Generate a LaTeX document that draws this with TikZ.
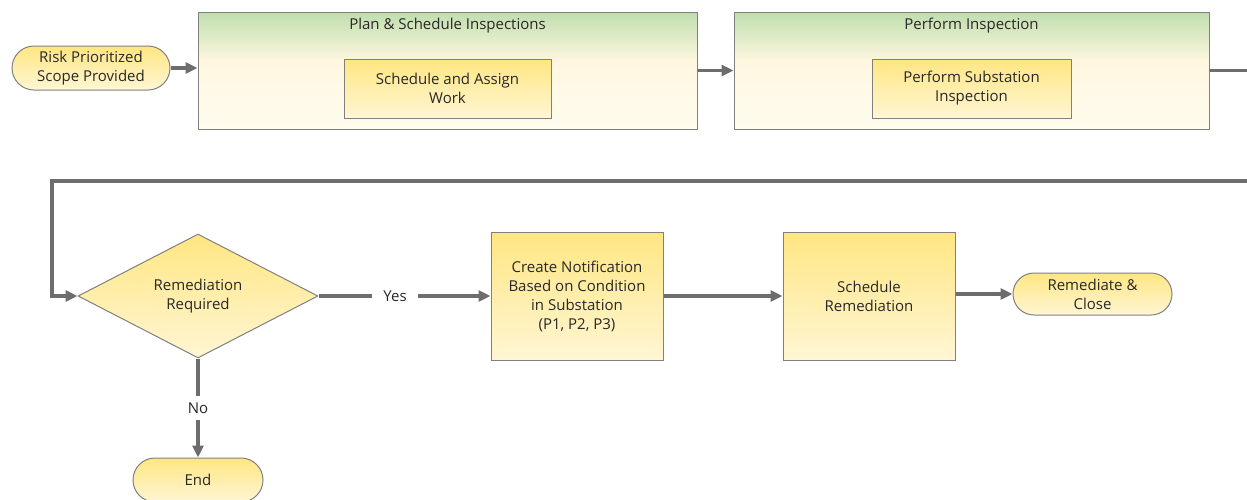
\documentclass[tikz,border=0pt]{standalone}
\usepackage{fontspec}
\setmainfont{Open Sans}
\usetikzlibrary{shapes.misc,shapes.geometric,arrows.meta}
\definecolor{txt}{RGB}{40,40,40}
\definecolor{bord}{RGB}{128,128,128}
\definecolor{arrc}{RGB}{110,108,110}
\definecolor{cb}{RGB}{255,252,238}
\definecolor{cm}{RGB}{255,247,224}
\definecolor{ct}{RGB}{192,222,174}
\definecolor{yt}{RGB}{255,230,130}
\definecolor{yb}{RGB}{255,246,212}
\pgfdeclareverticalshading{contshade}{100bp}{color(0bp)=(cb); color(25bp)=(cb); color(54bp)=(cm); color(75bp)=(ct); color(100bp)=(ct)}
\tikzset{
  lbl/.style={font=\fontsize{15}{19}\selectfont, text=txt, align=center},
  cont/.style={draw=bord, line width=1pt, shading=contshade, minimum height=117pt, inner sep=0pt},
  ybox/.style={lbl, draw=bord, line width=1pt, top color=yt, bottom color=yb, inner sep=0pt},
  term/.style={lbl, rounded rectangle, draw=bord, line width=1pt, top color=yt, bottom color=yb, inner sep=0pt},
  dec/.style={lbl, diamond, draw=bord, line width=1pt, top color=yt, bottom color=yb, inner sep=0pt, minimum width=240pt, minimum height=124pt},
  arr/.style={draw=arrc, line width=3.5pt, -{Triangle[length=12pt,width=11pt]}},
  ln/.style={draw=arrc, line width=3.5pt},
  ttl/.style={lbl},
  cut/.style={lbl, fill=white, inner ysep=1pt}
}
\begin{document}
\begin{tikzpicture}[x=1pt,y=-1pt]
\useasboundingbox (0,0) rectangle (1247,499);
% top row
\node[term, minimum width=158pt, minimum height=44pt] (start) at (91,68) {Risk Prioritized\\Scope Provided};
\node[cont, minimum width=499pt] (c1) at (447.5,70.5) {};
\node[ttl] (t1) at (447.5,26) {Plan \& Schedule Inspections};
\node[ybox, minimum width=207pt, minimum height=59pt] (b1) at (447.5,88.5) {Schedule and Assign\\Work};
\node[cont, minimum width=475pt] (c2) at (971.5,70.5) {};
\node[ttl] (t2) at (971.5,26) {Perform Inspection};
\node[ybox, minimum width=199pt, minimum height=59pt] (b2) at (971.5,88.5) {Perform Substation\\Inspection};
% bottom row
\node[dec] (d) at (198,296) {Remediation\\Required};
\node[ybox, minimum width=172pt, minimum height=128pt] (n1) at (577,296) {Create Notification\\Based on Condition\\in Substation\\(P1, P2, P3)};
\node[ybox, minimum width=172pt, minimum height=128pt] (n2) at (869,296) {Schedule\\Remediation};
\node[term, minimum width=159pt, minimum height=42pt] (close) at (1092.5,294) {Remediate \&\\Close};
\node[term, minimum width=130pt, minimum height=44pt] (end) at (198,480) {End};
% route coordinates
\coordinate (r1) at (1250,70.5);
\coordinate (r2) at (1250,181);
\coordinate (r3) at (52,181);
\coordinate (r4) at (52,296);
% connectors
\draw[arr] (start.east) -- (c1.west |- start.east);
\draw[arr] (c1.east) -- (c2.west);
\draw[ln] (c2.east) -- (r1);
\draw[arr] (r1) -- (r2) -- (r3) -- (r4) -- (d.west);
\draw[arr] (d.east) -- node[cut, pos=0.445, inner xsep=11pt] {Yes} (n1.west);
\draw[arr] (n1.east) -- (n2.west);
\draw[arr] (n2.east |- close.west) -- (close.west);
\draw[arr] (d.south) -- node[cut, inner ysep=7pt, inner xsep=2pt] {No} (end.north);
\end{tikzpicture}
\end{document}
